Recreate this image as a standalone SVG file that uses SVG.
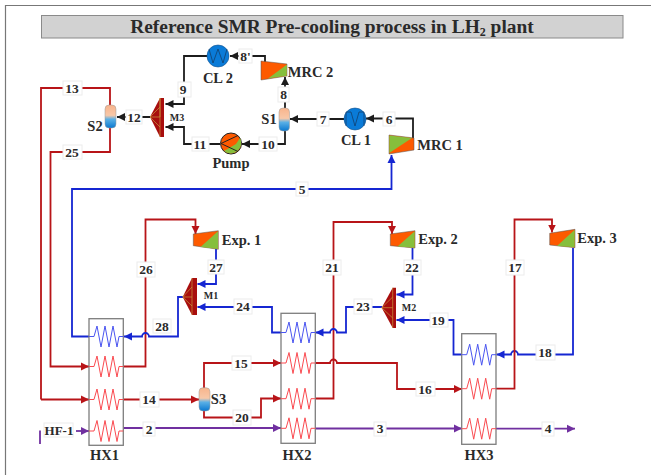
<svg xmlns="http://www.w3.org/2000/svg" width="651" height="475" viewBox="0 0 651 475">
<style>
text{font-family:"Liberation Serif","Times New Roman",serif;font-weight:bold;fill:#2a2a2a;text-anchor:middle}
.t{font-size:14.500px}
.n{font-size:13.500px}
.s{font-size:10px}
.lb{fill:#fff;stroke:#ececec;stroke-width:1}
.c{fill:none;stroke-width:1.800}
.k{stroke:#1c1c1c;marker-end:url(#ak)}
.k0{stroke:#1c1c1c}
.r{stroke:#b81418;marker-end:url(#ar)}
.r0{stroke:#b81418}
.b{stroke:#1526d2;marker-end:url(#ab)}
.b0{stroke:#1526d2}
.p{stroke:#7030a0;marker-end:url(#ap)}
.p0{stroke:#7030a0}
.hx{fill:#fff;stroke:#7d7d7d;stroke-width:1.300}
.cb{fill:none;stroke:#4a55f0;stroke-width:1}
.cr{fill:none;stroke:#fa4a50;stroke-width:1}
.or{fill:#fd5a00;stroke:#555;stroke-width:.5}
.gr{fill:#86bf3c}
.ves{fill:url(#vg);stroke:#9a9a9a;stroke-width:.5}
.cl{fill:#0a7bd8;stroke:#13508c;stroke-width:.6}
.w{fill:none;stroke:#12406f;stroke-width:.8}
.mx{fill:#a80e0e}
.my{fill:none;stroke:#c9963c;stroke-width:.7}
</style>
<defs>
<linearGradient id="vg" x1="0" y1="0" x2="0" y2="1"><stop offset="0" stop-color="#f8b48c"/><stop offset=".45" stop-color="#f8c8a8"/><stop offset=".62" stop-color="#5ab0e6"/><stop offset="1" stop-color="#0a78d0"/></linearGradient>
<marker id="ak" markerUnits="userSpaceOnUse" markerWidth="9" markerHeight="10" refX="8" refY="5" orient="auto"><path d="M0 1L8 5L0 9Z" fill="#1c1c1c"/></marker>
<marker id="ar" markerUnits="userSpaceOnUse" markerWidth="9" markerHeight="10" refX="8" refY="5" orient="auto"><path d="M0 1L8 5L0 9Z" fill="#b81418"/></marker>
<marker id="ab" markerUnits="userSpaceOnUse" markerWidth="9" markerHeight="10" refX="8" refY="5" orient="auto"><path d="M0 1L8 5L0 9Z" fill="#1526d2"/></marker>
<marker id="ap" markerUnits="userSpaceOnUse" markerWidth="9" markerHeight="10" refX="8" refY="5" orient="auto"><path d="M0 1L8 5L0 9Z" fill="#7030a0"/></marker>
<path id="coil" d="M0 0H5L8 -10.500L12 10.500L16 -10.500L20 10.500L24 -10.500L28 10.500L30 0H34.300"/>
</defs>

<path d="M5.500 475V5.500H651" fill="none" stroke="#777" stroke-width="1.200"/>
<g id="title">
<rect x="41.500" y="15.500" width="581.500" height="22.500" fill="#d2d2d2" stroke="#8a8a8a"/>
<text x="332" y="33" style="font-size:19.400px">Reference SMR Pre-cooling process in LH<tspan style="font-size:12px" dy="3">2</tspan><tspan dy="-3"> plant</tspan></text>
</g>

<g id="connectors">
<path class="c k" d="M207 56H184V104H165.500"/>
<path class="c k" d="M265 62V56H230"/>
<path class="c k" d="M285 108V77"/>
<path class="c k" d="M344 119H290"/>
<path class="c k" d="M413 138V118.500H366"/>
<path class="c k" d="M150 117H117"/>
<path class="c k" d="M220 144H184V127H165.500"/>
<path class="c k" d="M285 131V144H242"/>
<path class="c b" d="M89 336.500H72V189H391.500V155"/>
<path class="c r0" d="M110 105V88H41V399.500"/>
<path class="c r" d="M41 399.500H89"/>
<path class="c r" d="M110 128V152H50.500V366.500H89"/>
<path class="c r" d="M123 366.500H145.500V219.500H195.500V234"/>
<path class="c b" d="M216 249V284H197.500"/>
<path class="c b" d="M183 297H178V336.500H149V336.500A3.500 3.500 0 0 0 142 336.500H124"/>
<path class="c b" d="M281 332.500H272V307H197.500"/>
<path class="c r" d="M123 399.500H199"/>
<path class="c r" d="M204 388V363H281"/>
<path class="c r" d="M204 411V417.500H261V398.500H281"/>
<path class="c r" d="M315 398.500H333.500V222H392V234"/>
<path class="c b" d="M412.500 248V294.500H396.500"/>
<path class="c b" d="M382 307H346V332.500H337A3.500 3.500 0 0 0 330 332.500H315.500"/>
<path class="c b" d="M462 354.500H453.500V320H396.500"/>
<path class="c b" d="M573 248V354.500H518A3.500 3.500 0 0 0 511 354.500H496.500"/>
<path class="c r" d="M496 388.700H514.500V219.500H552V232.500"/>
<path class="c r" d="M315 363H330A3.500 3.500 0 0 1 337 363H397V389H462"/>
<path class="c p0" d="M40 430.500V444"/>
<path class="c p" d="M76 431H89"/>
<path class="c p" d="M123 428H281"/>
<path class="c p" d="M315 428.500H462"/>
<path class="c p" d="M496 428.700H575"/>
<g id="labels">
<rect class="lb" x="239" y="49" width="13" height="14"/><text class="n" x="245.500" y="60.500">8'</text>
<rect class="lb" x="178" y="82" width="13" height="15"/><text class="n" x="183" y="93.500">9</text>
<rect class="lb" x="278" y="87" width="11" height="15"/><text class="n" x="283.500" y="98.500">8</text>
<rect class="lb" x="317" y="112" width="12" height="14"/><text class="n" x="323" y="123.500">7</text>
<rect class="lb" x="383" y="112" width="12" height="14"/><text class="n" x="389" y="123.500">6</text>
<rect class="lb" x="126" y="110" width="16" height="14"/><text class="n" x="134" y="121.500">12</text>
<rect class="lb" x="192" y="137" width="17" height="14"/><text class="n" x="200" y="148.500">11</text>
<rect class="lb" x="259" y="137" width="18" height="14"/><text class="n" x="268" y="148.500">10</text>
<rect class="lb" x="63" y="81" width="19" height="14"/><text class="n" x="72" y="92.500">13</text>
<rect class="lb" x="63" y="145" width="19" height="14"/><text class="n" x="72" y="156.500">25</text>
<rect class="lb" x="296" y="182" width="12" height="14"/><text class="n" x="302" y="193.500">5</text>
<rect class="lb" x="137" y="262" width="18" height="15"/><text class="n" x="146" y="273.500">26</text>
<rect class="lb" x="208" y="260" width="16" height="14"/><text class="n" x="216" y="271.500">27</text>
<rect class="lb" x="153" y="319" width="18" height="14"/><text class="n" x="162" y="330.500">28</text>
<rect class="lb" x="234" y="299" width="18" height="15"/><text class="n" x="243" y="310.500">24</text>
<rect class="lb" x="140" y="392" width="19" height="15"/><text class="n" x="149" y="403.500">14</text>
<rect class="lb" x="232" y="356" width="19" height="14"/><text class="n" x="241" y="367.500">15</text>
<rect class="lb" x="233" y="410" width="18" height="15"/><text class="n" x="242" y="421.500">20</text>
<rect class="lb" x="323" y="260" width="18" height="15"/><text class="n" x="332" y="271.500">21</text>
<rect class="lb" x="404" y="260" width="17" height="15"/><text class="n" x="412" y="271.500">22</text>
<rect class="lb" x="354" y="299" width="18" height="15"/><text class="n" x="363" y="310.500">23</text>
<rect class="lb" x="430" y="313" width="18" height="14"/><text class="n" x="438" y="324.500">19</text>
<rect class="lb" x="536" y="345" width="19" height="15"/><text class="n" x="545" y="356.500">18</text>
<rect class="lb" x="506" y="260" width="18" height="15"/><text class="n" x="515" y="271.500">17</text>
<rect class="lb" x="416" y="382" width="19" height="14"/><text class="n" x="425" y="393.500">16</text>
<rect class="lb" x="44" y="423" width="29" height="14"/><text class="n" x="59" y="434.500" style="font-size:13px">HF-1</text>
<rect class="lb" x="143" y="422" width="12" height="14"/><text class="n" x="149" y="433.500">2</text>
<rect class="lb" x="374" y="422" width="12" height="14"/><text class="n" x="380" y="433">3</text>
<rect class="lb" x="542" y="422" width="12" height="14"/><text class="n" x="548" y="433">4</text>
</g>
</g>

<g id="CL2"><circle class="cl" cx="218" cy="56" r="11"/><path class="w" d="M209 49L213 63L218 49L223 63L227 49"/><text class="t" x="218" y="83">CL 2</text></g>
<g id="MRC2"><polygon class="or" points="261,61 287,64 287,76 261,80"/><polygon class="gr" points="287,64.500 286.700,75.800 268,78.500"/><text class="t" x="310.500" y="76.500">MRC 2</text></g>
<g id="S1"><rect class="ves" x="279" y="108" width="10.500" height="23" rx="4"/><text class="t" x="269" y="124">S1</text></g>
<g id="CL1"><circle class="cl" cx="355" cy="119" r="11"/><path class="w" d="M346 126V112H351L355 126L359 112H364V126"/><text class="t" x="356" y="144.500">CL 1</text></g>
<g id="MRC1"><polygon class="or" points="389,135 414,138 414,150 389,154"/><polygon class="gr" points="389.300,135.500 412,138 389.300,153"/><text class="t" x="440" y="150">MRC 1</text></g>
<g id="M3"><polygon class="mx" points="150,117 160,98 164,98 164,137 160,137"/><path class="my" d="M150 117H160L160 98M150 117L160 107M150 117L160 127M160 98V137"/><text class="s" x="177" y="121">M3</text></g>
<g id="S2"><rect class="ves" x="105" y="105" width="11" height="23" rx="4"/><text class="t" x="95" y="131">S2</text></g>
<g id="Pump"><circle cx="231" cy="143.500" r="10.500" fill="#fd5a00" stroke="#222" stroke-width="1"/><path d="M240 138A10.500 10.500 0 0 1 224 151L236 144Z" fill="#86bf3c"/><path d="M221 143.500L238 135.500M221 143.500L238 151.500" fill="none" stroke="#222" stroke-width="1"/><text class="t" x="231" y="168">Pump</text></g>

<g id="HX1"><rect class="hx" x="89" y="318.700" width="34.300" height="126.600"/><use href="#coil" class="cb" x="89" y="336.500"/><use href="#coil" class="cr" x="89" y="366.500"/><use href="#coil" class="cr" x="89" y="399.500"/><use href="#coil" class="cr" x="89" y="431"/><text class="t" x="104.500" y="460">HX1</text></g>
<g id="HX2"><rect class="hx" x="281" y="313.300" width="34.300" height="130"/><use href="#coil" class="cb" x="281" y="332.500"/><use href="#coil" class="cr" x="281" y="363"/><use href="#coil" class="cr" x="281" y="398.700"/><use href="#coil" class="cr" x="281" y="428.300"/><text class="t" x="297" y="460">HX2</text></g>
<g id="HX3"><rect class="hx" x="461.700" y="333.700" width="34.300" height="110.600"/><use href="#coil" class="cb" x="461.700" y="354.700"/><use href="#coil" class="cr" x="461.700" y="388.700"/><use href="#coil" class="cr" x="461.700" y="428.700"/><text class="t" x="479" y="460">HX3</text></g>

<g id="Exp1"><polygon class="or" points="193.300,234 218.300,230.700 218.300,249.300 193.300,245.700"/><polygon class="gr" points="218,231.200 218,249 200.500,247"/><text class="t" x="241.500" y="245">Exp. 1</text></g>
<g id="Exp2"><polygon class="or" points="390.300,234 415,230.700 415,248 390.300,245.700"/><polygon class="gr" points="414.700,231.200 414.700,247.700 397.500,246.500"/><text class="t" x="438" y="244">Exp. 2</text></g>
<g id="Exp3"><polygon class="or" points="549.700,233.300 575,229.300 575,247.700 549.700,245"/><polygon class="gr" points="574.700,229.800 574.700,247.300 557,246"/><text class="t" x="597" y="243">Exp. 3</text></g>
<g id="M1"><polygon class="mx" points="182.700,297 192,278 197,278 197,315 192,315"/><path class="my" d="M182.700 297H192M182.700 297L192 287M182.700 297L192 306M192 278V315"/><text class="s" x="211" y="299">M1</text></g>
<g id="M2"><polygon class="mx" points="381.700,307.700 392.700,287.700 396,287.700 396,328 392.700,328"/><path class="my" d="M381.700 307.700H392.700M381.700 307.700L392.700 297M381.700 307.700L392.700 318M392.700 287.700V328"/><text class="s" x="409" y="311">M2</text></g>
<g id="S3"><rect class="ves" x="199" y="387.700" width="11" height="23.300" rx="4"/><text class="t" x="218.500" y="404">S3</text></g>
</svg>
